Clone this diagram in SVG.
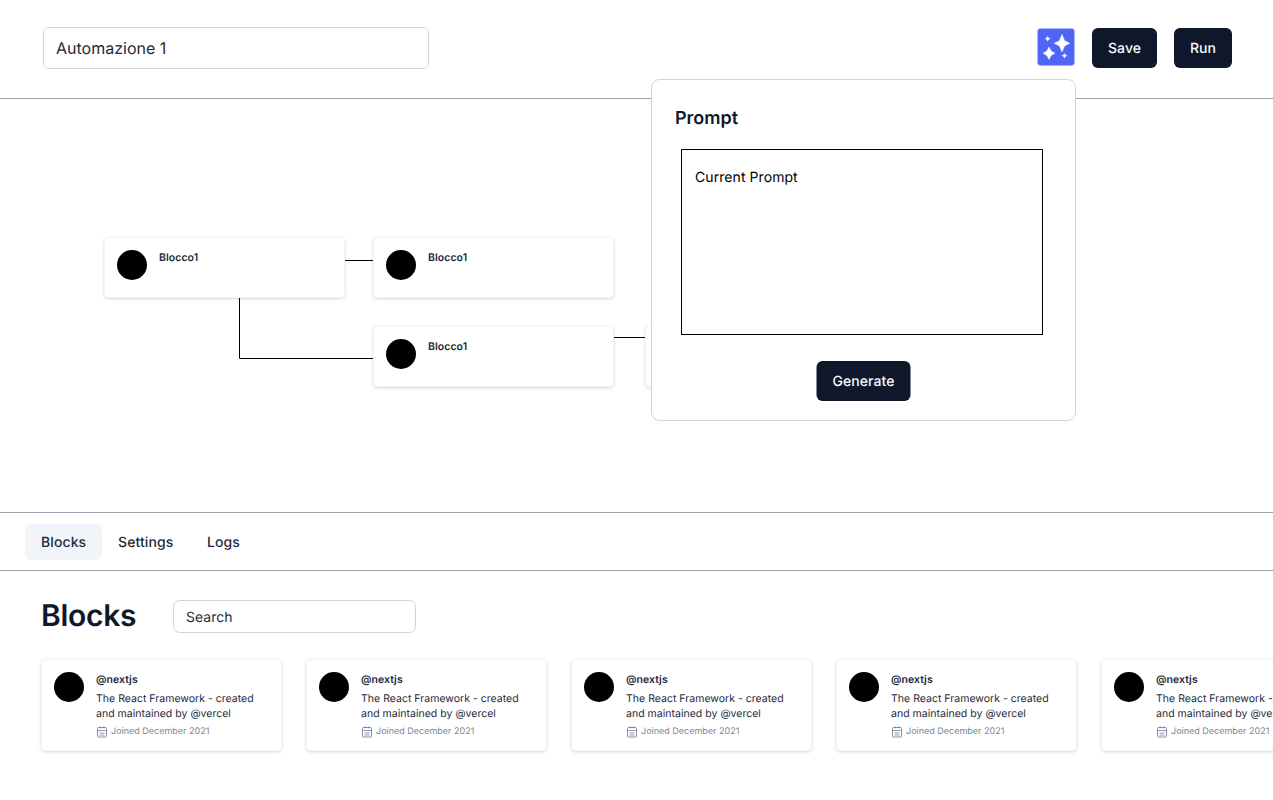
<svg xmlns="http://www.w3.org/2000/svg" xmlns:xlink="http://www.w3.org/1999/xlink" width="1273" height="800" viewBox="0 0 1273 800">
<style>
text{font-family:Inter,"Liberation Sans",sans-serif;fill:#0f172a;text-rendering:geometricPrecision}
.rule{stroke:#9ca3af;stroke-width:1;fill:none}
.field{fill:#fff;stroke:#d0d5dc;stroke-width:1}
.btn{fill:#0f172a}
.btnt{fill:#f8fafc;font-size:14px;font-weight:450;text-anchor:middle;letter-spacing:.05px}
.card{fill:#fff;stroke:#f1f5f9;stroke-width:1;filter:url(#sh)}
.conn{stroke:#000;stroke-width:1;fill:none}
.title{font-size:10.5px;font-weight:600;letter-spacing:.05px;fill:#1e293b}
.body{font-size:10.5px;letter-spacing:.02px;fill:#1e293b}
.meta{font-size:9px;fill:#7a8699}
.tab{font-size:14px;font-weight:450;letter-spacing:.1px;fill:#1e293b}
</style>
<defs>
<filter id="sh" x="-10%" y="-20%" width="120%" height="150%">
<feDropShadow dx="0" dy="1" stdDeviation="1.6" flood-color="#000" flood-opacity="0.16"/>
</filter>
<g id="block">
<rect class="card" x="0.5" y="0.5" width="240" height="60" rx="4"/>
<circle cx="28" cy="28" r="15" fill="#000"/>
<text class="title" x="55" y="24">Blocco1</text>
</g>
<g id="cal" fill="none" stroke="#64748b" stroke-width="0.8">
<rect x="0.5" y="1.500" width="9" height="9.500" rx="1"/>
<path d="M0.500 4.500H9.500M3 0.300V2.500M7 0.300V2.500M2.500 7H7.500M2.500 9H7.500" stroke-width="0.7"/>
</g>
<g id="bcard">
<rect class="card" x="0.5" y="0.5" width="240" height="91" rx="4"/>
<circle cx="28" cy="28" r="15" fill="#000"/>
<text class="title" x="55" y="24">@nextjs</text>
<text class="body" x="55" y="43">The React Framework - created</text>
<text class="body" x="55" y="58">and maintained by @vercel</text>
<use xlink:href="#cal" href="#cal" x="56" y="67"/>
<text class="meta" x="70" y="75">Joined December 2021</text>
</g>
</defs>

<g id="header">
<rect class="field" x="43.5" y="27.5" width="385" height="41" rx="6"/>
<text x="56" y="54" font-size="16" fill="#1e293b" style="fill:#1e293b">Automazione 1</text>
<line class="rule" x1="0" y1="98.5" x2="1273" y2="98.5"/>
</g>

<g id="connectors">
<path class="conn" d="M345 260.5H374"/>
<path class="conn" d="M239.5 297V358.5H374"/>
<path class="conn" d="M614 337.5H646"/>
</g>

<g id="node-1"><use href="#block" x="104" y="237"/></g>
<g id="node-2"><use href="#block" x="373" y="237"/></g>
<g id="node-3"><use href="#block" x="373" y="326"/></g>
<g id="node-4"><use href="#block" x="645" y="326"/></g>

<g id="ai-button">
<rect x="1037.500" y="28.500" width="37" height="37" rx="3" fill="#4f65f6" stroke="#a5b4fc" stroke-width="0.5"/>
<path fill="#fff" d="M1062 34.500L1064.600 40.700L1069.800 43.300L1064.600 45.900L1062 52L1059.400 45.900L1054.200 43.300L1059.400 40.700Z" stroke="#fff" stroke-width="0.5" stroke-linejoin="round"/>
<path fill="#fff" d="M1049 47L1051.200 51L1055 53.200L1051.200 55.400L1049 59.500L1046.800 55.400L1043 53.200L1046.800 51Z" stroke="#fff" stroke-width="0.4" stroke-linejoin="round"/>
<path fill="#fff" d="M1047.700 35.700C1048.200 37.500 1048.900 38.200 1050.700 38.700C1048.900 39.200 1048.200 39.900 1047.700 41.700C1047.200 39.900 1046.500 39.200 1044.700 38.700C1046.500 38.200 1047.200 37.500 1047.700 35.700Z"/>
<path fill="#fff" d="M1064.500 52.700C1065 54.500 1065.700 55.200 1067.500 55.700C1065.700 56.200 1065 56.900 1064.500 58.700C1064 56.900 1063.300 56.200 1061.500 55.700C1063.300 55.200 1064 54.500 1064.500 52.700Z"/>
</g>
<g id="save-button"><rect class="btn" x="1092" y="28" width="65" height="40" rx="6"/><text class="btnt" x="1124.500" y="53">Save</text></g>
<g id="run-button"><rect class="btn" x="1174" y="28" width="58" height="40" rx="6"/><text class="btnt" x="1203" y="53">Run</text></g>

<g id="prompt-panel">
<rect x="651.500" y="79.500" width="424" height="341" rx="8" fill="#fff" stroke="#cbd5e1"/>
<text x="675" y="124" font-size="18" font-weight="600">Prompt</text>
<rect x="681.500" y="149.500" width="361" height="185" fill="#fff" stroke="#000"/>
<text x="695" y="182" font-size="14" letter-spacing="0.07" style="fill:#000">Current Prompt</text>
<rect class="btn" x="816.500" y="361" width="94" height="40" rx="6"/>
<text class="btnt" x="863.500" y="386">Generate</text>
</g>

<g id="tabs">
<line class="rule" x1="0" y1="512.500" x2="1273" y2="512.500"/>
<rect x="25" y="524" width="77" height="36" rx="6" fill="#f1f5f9"/>
<text class="tab" x="41" y="547">Blocks</text>
<text class="tab" x="118" y="547">Settings</text>
<text class="tab" x="207" y="547">Logs</text>
<line class="rule" x1="0" y1="570.500" x2="1273" y2="570.500"/>
</g>

<g id="blocks-section">
<text x="41" y="626" font-size="30" font-weight="600" letter-spacing="-0.3">Blocks</text>
<rect class="field" x="173.500" y="600.500" width="242" height="32" rx="6"/>
<text x="186" y="621.500" font-size="14" style="fill:#1e293b">Search</text>
</g>

<g id="card-1"><use href="#bcard" x="41" y="659"/></g>
<g id="card-2"><use href="#bcard" x="306" y="659"/></g>
<g id="card-3"><use href="#bcard" x="571" y="659"/></g>
<g id="card-4"><use href="#bcard" x="836" y="659"/></g>
<g id="card-5"><use href="#bcard" x="1101" y="659"/></g>
</svg>
